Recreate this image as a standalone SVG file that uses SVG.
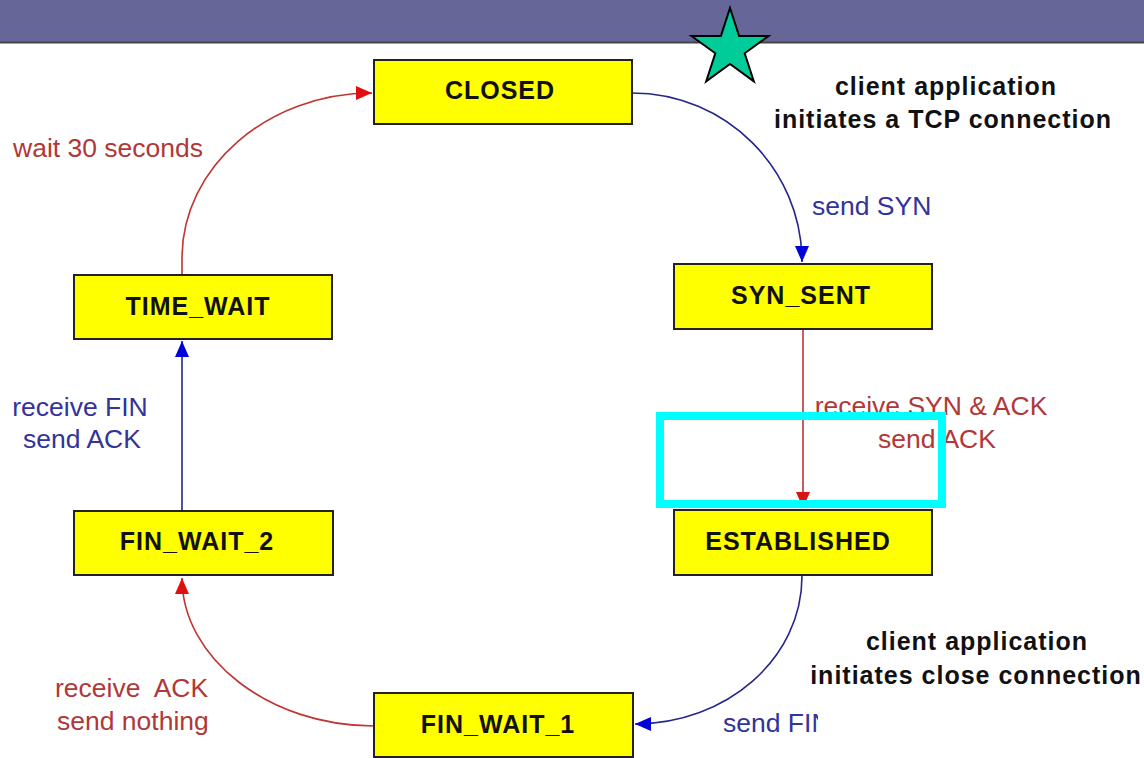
<svg xmlns="http://www.w3.org/2000/svg" width="1144" height="758" viewBox="0 0 1144 758">
<style>
.node rect{fill:#ffff00;stroke:#222;stroke-width:2}
.node text{font-family:"Liberation Sans",Arial,sans-serif;font-weight:bold;font-size:25px;letter-spacing:1px;fill:#111;text-anchor:middle}
.lbl{font-family:"Liberation Sans",Arial,sans-serif;font-size:26.5px}
.red{fill:#b03838}
.blue{fill:#33339a}
.note{font-family:"Liberation Sans",Arial,sans-serif;font-weight:bold;font-size:25px;letter-spacing:1px;fill:#111;text-anchor:middle}
.cr{fill:none;stroke:#c03434;stroke-width:1.6}
.cb{fill:none;stroke:#25258c;stroke-width:1.6}
</style>
<defs>
<marker id="ar" markerUnits="userSpaceOnUse" markerWidth="18" markerHeight="16" refX="16" refY="7" orient="auto"><path d="M0,0 L16,7 L0,14 z" fill="#e01010"/></marker>
<marker id="ab" markerUnits="userSpaceOnUse" markerWidth="18" markerHeight="16" refX="16" refY="7" orient="auto"><path d="M0,0 L16,7 L0,14 z" fill="#0000d8"/></marker>
<clipPath id="clipFin"><rect x="700" y="690" width="118" height="68"/></clipPath>
</defs>
<rect width="1144" height="758" fill="#ffffff"/>
<g id="header">
<rect x="0" y="0" width="1144" height="42" fill="#666699"/>
<line x1="0" y1="42.5" x2="1144" y2="42.5" stroke="#444" stroke-width="2"/>
</g>
<g id="connectors">
<path class="cr" d="M182,275 L182,258 C182,167 268,93 372,93" marker-end="url(#ar)"/>
<path class="cb" d="M632,93 C726,93 802,169 802,262" marker-end="url(#ab)"/>
<path class="cr" d="M803,329 L803,508" marker-end="url(#ar)"/>
<path class="cb" d="M802,576 C802,659 726,724 635,724" marker-end="url(#ab)"/>
<path class="cr" d="M374,726 C269,726 182,658 182,578" marker-end="url(#ar)"/>
<path class="cb" d="M182,511 L182,341" marker-end="url(#ab)"/>
</g>
<g id="closed" class="node"><rect x="374" y="60" width="258" height="64"/><text x="500" y="99">CLOSED</text></g>
<g id="syn_sent" class="node"><rect x="674" y="264" width="258" height="65"/><text x="801" y="304">SYN_SENT</text></g>
<g id="established" class="node"><rect x="674" y="510" width="258" height="65"/><text x="798" y="550">ESTABLISHED</text></g>
<g id="fin_wait_1" class="node"><rect x="374" y="693" width="259" height="64"/><text x="498" y="733">FIN_WAIT_1</text></g>
<g id="fin_wait_2" class="node"><rect x="74" y="511" width="259" height="64"/><text x="197" y="550">FIN_WAIT_2</text></g>
<g id="time_wait" class="node"><rect x="74" y="275" width="258" height="64"/><text x="198" y="315">TIME_WAIT</text></g>
<g id="labels">
<text class="lbl red" x="13" y="157">wait 30 seconds</text>
<text class="lbl blue" x="812" y="215">send SYN</text>
<text class="lbl red" x="931" y="415" text-anchor="middle">receive SYN &amp; ACK</text>
<text class="lbl red" x="937" y="448" text-anchor="middle">send ACK</text>
<text class="lbl blue" x="80" y="416" text-anchor="middle">receive FIN</text>
<text class="lbl blue" x="82" y="448" text-anchor="middle">send ACK</text>
<text class="lbl red" x="55" y="697" xml:space="preserve">receive  ACK</text>
<text class="lbl red" x="57" y="730">send nothing</text>
<text class="lbl blue" x="723" y="732" clip-path="url(#clipFin)">send FIN</text>
<text class="note" x="946" y="95">client application</text>
<text class="note" x="943" y="128">initiates a TCP connection</text>
<text class="note" x="977" y="650">client application</text>
<text class="note" x="976" y="684">initiates close connection</text>
</g>
<g id="star">
<polygon points="730,8 739.1,36 768.5,36 744.7,53.3 753.8,81.3 730,64 706.2,81.3 715.3,53.3 691.5,36 720.9,36" fill="#00cc99" stroke="#000" stroke-width="2" stroke-linejoin="miter"/>
</g>
<g id="highlight">
<rect x="660" y="416" width="282" height="88" fill="none" stroke="#00ffff" stroke-width="8"/>
</g>
</svg>
